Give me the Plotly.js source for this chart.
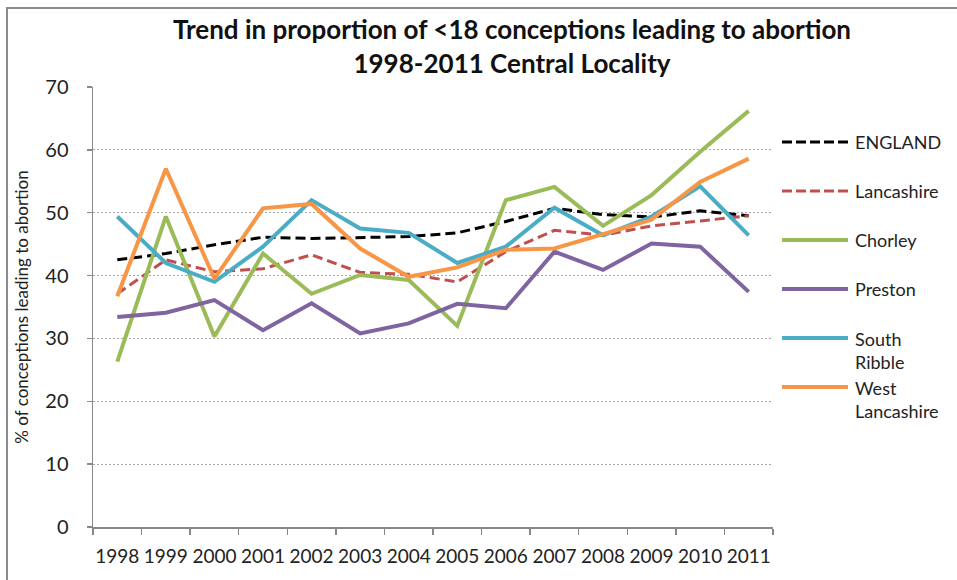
<!DOCTYPE html>
<html>
<head>
<meta charset="utf-8">
<script src="https://cdn.plot.ly/plotly-3.0.1.min.js"></script>
<style>
  html, body { margin: 0; padding: 0; background: #fff; }
  #wrap { position: relative; width: 957px; height: 580px; }
  #chart { width: 957px; height: 580px; }
  #frame { position: absolute; left: 6px; top: 7px; width: 980px; height: 600px;
           border-left: 2px solid #8c8c8c; border-top: 2px solid #8c8c8c; pointer-events: none; }
</style>
</head>
<body>
<div id="wrap"><div id="chart"></div><div id="frame"></div></div>
<script>
const years = ['1998','1999','2000','2001','2002','2003','2004','2005','2006','2007','2008','2009','2010','2011'];

const england        = [42.5, 43.5, 44.9, 46.1, 45.9, 46.1, 46.2, 46.8, 48.6, 50.7, 49.7, 49.3, 50.3, 49.5];
const lancashire     = [37.1, 42.5, 40.6, 41.1, 43.3, 40.5, 40.2, 39.0, 43.8, 47.2, 46.4, 47.9, 48.7, 49.5];
const chorley        = [26.3, 49.4, 30.3, 43.5, 37.1, 40.1, 39.3, 32.0, 52.0, 54.1, 47.9, 52.8, 59.7, 66.2];
const preston        = [33.4, 34.1, 36.1, 31.3, 35.6, 30.8, 32.4, 35.5, 34.8, 43.8, 40.9, 45.1, 44.6, 37.4];
const southRibble    = [49.4, 42.0, 39.0, 44.6, 52.0, 47.5, 46.8, 42.0, 44.6, 50.8, 46.4, 49.4, 54.2, 46.4];
const westLancashire = [36.7, 57.0, 39.5, 50.7, 51.4, 44.3, 39.8, 41.3, 44.1, 44.3, 46.6, 48.9, 54.9, 58.6];

const seriesNames  = ['ENGLAND', 'Lancashire', 'Chorley', 'Preston', 'South Ribble', 'West Lancashire'];
const legendLabels = ['ENGLAND', 'Lancashire', 'Chorley', 'Preston', 'South<br>Ribble', 'West<br>Lancashire'];
const seriesValues = [england, lancashire, chorley, preston, southRibble, westLancashire];
const seriesColors = ['#000000', '#C0504D', '#9BBB59', '#8064A2', '#4BACC6', '#F79646'];
const seriesDashed = [true, true, false, false, false, false];

const FONT = 'Lato, Calibri, Carlito, sans-serif';
const W = 957, H = 580;
const M = {l: 93, r: 184, t: 87, b: 53};
const PW = W - M.l - M.r, PH = H - M.t - M.b;
const px2x = p => (p - M.l) / PW;
const px2y = p => (H - M.b - p) / PH;

const traces = seriesValues.map((vals, i) => ({
  x: years, y: vals, type: 'scatter', mode: 'lines', name: seriesNames[i],
  line: {color: seriesColors[i], width: seriesDashed[i] ? 3 : 4,
         dash: seriesDashed[i] ? '10px,5px' : 'solid'},
  hoverinfo: 'skip', showlegend: false
}));

// legend (drawn as swatches + text beside the plot)
const legendTop = 142, legendStep = 49, legendLineH = 24;
const shapes = [], annotations = [];
seriesNames.forEach((n, i) => {
  const cy = legendTop + i * legendStep;
  shapes.push({type: 'line', xref: 'paper', yref: 'paper',
    x0: px2x(782), x1: px2x(848), y0: px2y(cy), y1: px2y(cy),
    line: {color: seriesColors[i], width: seriesDashed[i] ? 3 : 4,
           dash: seriesDashed[i] ? '10px,4px' : 'solid'}});
  const nl = legendLabels[i].split('<br>').length;
  annotations.push({xref: 'paper', yref: 'paper', x: px2x(853), xanchor: 'left',
    y: px2y(cy + (nl - 1) * legendLineH / 2), yanchor: 'middle', align: 'left',
    showarrow: false, text: legendLabels[i],
    font: {family: FONT, size: 18, color: '#222'}});
});

const layout = {
  width: W, height: H,
  margin: M,
  paper_bgcolor: '#fff', plot_bgcolor: '#fff',
  title: {
    text: 'Trend in proportion of <18 conceptions leading to abortion<br>1998-2011 Central Locality',
    font: {family: FONT, size: 26, color: '#111', weight: 'bold'},
    xref: 'container', x: 512 / W, xanchor: 'center',
    yref: 'container', y: 1 - 39 / H, yanchor: 'middle'
  },
  xaxis: {
    type: 'category', categoryorder: 'array', categoryarray: years,
    range: [-0.5, 13.5],
    tickson: 'boundaries', ticks: 'outside', ticklen: 6, tickcolor: '#888', tickwidth: 1.5,
    showline: true, linecolor: '#888', linewidth: 1.5, showgrid: false, zeroline: false,
    tickangle: 0,
    tickfont: {family: FONT, size: 19, color: '#222'}, ticklabelstandoff: 12,
    fixedrange: true
  },
  yaxis: {
    range: [0, 70], dtick: 10, tick0: 0,
    ticks: 'outside', ticklen: 5, tickcolor: '#888', tickwidth: 1.5,
    showline: true, linecolor: '#888', linewidth: 1.5,
    showgrid: true, gridcolor: '#a6a6a6', gridwidth: 1, griddash: '2px,2px', zeroline: false,
    tickfont: {family: FONT, size: 20, color: '#222'}, ticklabelstandoff: 14,
    title: {text: '% of conceptions leading to abortion', font: {family: FONT, size: 17, color: '#222'}, standoff: 12},
    fixedrange: true
  },
  shapes: shapes,
  annotations: annotations,
  hovermode: false
};

Plotly.newPlot('chart', traces, layout, {staticPlot: true, displayModeBar: false});
</script>
</body>
</html>
